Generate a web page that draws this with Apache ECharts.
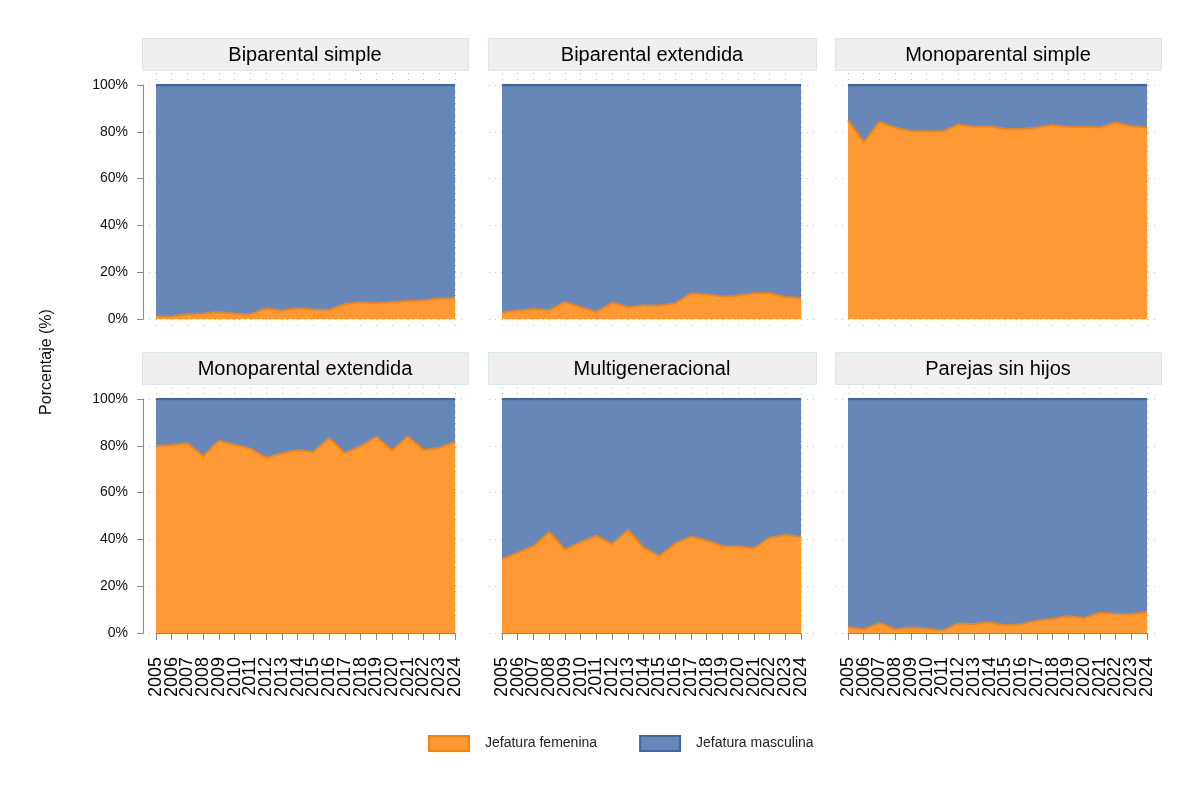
<!DOCTYPE html>
<html>
<head>
<meta charset="utf-8">
<script src="https://cdn.jsdelivr.net/npm/echarts@6/dist/echarts.min.js"></script>
<style>
html,body{margin:0;padding:0;background:#fff;}
#main{width:1200px;height:801px;}
</style>
</head>
<body>
<div id="main"></div>
<script>
// years on the x axis
var years = ['2005','2006','2007','2008','2009','2010','2011','2012','2013','2014',
             '2015','2016','2017','2018','2019','2020','2021','2022','2023','2024'];

var panelNames = ['Biparental simple','Biparental extendida','Monoparental simple',
                  'Monoparental extendida','Multigeneracional','Parejas sin hijos'];

// Jefatura femenina (%)
var femBiparentalSimple    = [1.1,1.1,2.1,2.4,3.0,2.4,2.0,4.6,3.6,4.7,4.1,4.0,6.4,7.1,6.7,7.3,7.7,8.0,8.8,9.1];
var femBiparentalExtendida = [2.9,3.6,4.3,3.8,7.3,5.1,3.0,7.0,5.1,5.8,5.8,6.7,11.0,10.5,9.5,10.0,11.0,11.1,9.4,9.0];
var femMonoparentalSimple  = [85.0,75.6,84.2,81.8,80.3,80.2,80.2,83.2,82.2,82.3,81.3,81.2,81.8,83.0,82.0,82.2,81.8,84.0,82.5,81.8];
var femMonoparentalExt     = [79.9,80.3,81.1,75.6,82.2,80.5,78.8,74.9,76.8,78.2,77.4,83.3,76.9,79.9,83.9,78.1,84.0,78.3,79.2,81.6];
var femMultigeneracional   = [31.6,34.3,37.2,43.2,35.8,38.8,41.6,38.0,44.0,36.6,32.9,38.3,41.2,39.6,37.2,37.0,36.3,40.7,41.9,41.0];
var femParejasSinHijos     = [2.6,1.6,4.3,1.7,2.3,1.9,1.1,4.1,3.8,4.6,3.3,3.7,5.3,6.1,7.3,6.4,8.7,8.2,8.1,9.0];

// Jefatura masculina (%)
var mascBiparentalSimple    = [98.9,98.9,97.9,97.6,97.0,97.6,98.0,95.4,96.4,95.3,95.9,96.0,93.6,92.9,93.3,92.7,92.3,92.0,91.2,90.9];
var mascBiparentalExtendida = [97.1,96.4,95.7,96.2,92.7,94.9,97.0,93.0,94.9,94.2,94.2,93.3,89.0,89.5,90.5,90.0,89.0,88.9,90.6,91.0];
var mascMonoparentalSimple  = [15.0,24.4,15.8,18.2,19.7,19.8,19.8,16.8,17.8,17.7,18.7,18.8,18.2,17.0,18.0,17.8,18.2,16.0,17.5,18.2];
var mascMonoparentalExt     = [20.1,19.7,18.9,24.4,17.8,19.5,21.2,25.1,23.2,21.8,22.6,16.7,23.1,20.1,16.1,21.9,16.0,21.7,20.8,18.4];
var mascMultigeneracional   = [68.4,65.7,62.8,56.8,64.2,61.2,58.4,62.0,56.0,63.4,67.1,61.7,58.8,60.4,62.8,63.0,63.7,59.3,58.1,59.0];
var mascParejasSinHijos     = [97.4,98.4,95.7,98.3,97.7,98.1,98.9,95.9,96.2,95.4,96.7,96.3,94.7,93.9,92.7,93.6,91.3,91.8,91.9,91.0];

var femData  = [femBiparentalSimple,femBiparentalExtendida,femMonoparentalSimple,
                femMonoparentalExt,femMultigeneracional,femParejasSinHijos];
var mascData = [mascBiparentalSimple,mascBiparentalExtendida,mascMonoparentalSimple,
                mascMonoparentalExt,mascMultigeneracional,mascParejasSinHijos];

var FONT = '"Liberation Sans", Arial, sans-serif';
var colLeft = [156, 502, 848];
var stripLeft = [142, 488, 835];
var stripW = [326, 328, 326];
var rowTop = [85, 399];
var plotW = 299, plotH = 234;
var dotted = {color:'#c4c4c4', width:1, type:[1,5]};

var grids = [], xAxes = [], yAxes = [], series = [], graphics = [];

for (var p = 0; p < 6; p++) {
	var c = p % 3, r = Math.floor(p / 3);
	var g = grids.length;
	// background grids for the dotted grid lines
	grids.push({left: stripLeft[c] + 1, top: rowTop[r], width: stripW[c] - 2, height: plotH});
	xAxes.push({gridIndex: g, type:'value', show:false, min:0, max:1});
	yAxes.push({gridIndex: g, type:'value', min:0, max:100, interval:20,
		axisLine:{show:false}, axisTick:{show:false}, axisLabel:{show:false},
		splitLine:{show:true, lineStyle:dotted}});
	grids.push({left: colLeft[c], top: rowTop[r] - 12, width: plotW, height: plotH + 20});
	xAxes.push({gridIndex: g + 1, type:'value', min:2005, max:2024, interval:1,
		axisLine:{show:false}, axisTick:{show:false}, axisLabel:{show:false},
		splitLine:{show:true, lineStyle:dotted}});
	yAxes.push({gridIndex: g + 1, type:'value', show:false, min:0, max:1});

	// data grid
	var dg = g + 2;
	grids.push({left: colLeft[c], top: rowTop[r], width: plotW, height: plotH});
	xAxes.push({
		gridIndex: dg, type:'category', data: years, boundaryGap:false,
		show: r === 1, offset: 15,
		axisLine:{show:true, lineStyle:{color:'#8a8a8a', width:1}},
		axisTick:{show:true, length:7, interval:0, lineStyle:{color:'#8a8a8a'}},
		axisLabel:{show:true, interval:0, rotate:90, margin:9, fontSize:18, color:'#000', fontFamily:FONT},
		splitLine:{show:false}
	});
	yAxes.push({
		gridIndex: dg, type:'value', min:0, max:100, interval:20,
		show: c === 0, offset: 13,
		axisLine:{show:true, lineStyle:{color:'#8a8a8a', width:1}},
		axisTick:{show:true, length:6, lineStyle:{color:'#8a8a8a'}},
		axisLabel:{show:true, margin:15, fontSize:14, color:'#111', fontFamily:FONT, formatter:'{value}%'},
		splitLine:{show:false}
	});

	series.push({
		name:'Jefatura femenina', type:'line', xAxisIndex: dg, yAxisIndex: dg,
		stack:'s' + p, data: femData[p], showSymbol:false, symbol:'none', z:4,
		lineStyle:{color:'#FF8000', width:2},
		itemStyle:{color:'#FF9933'},
		areaStyle:{color:'#FF9933', opacity:1},
		silent:true
	});
	series.push({
		name:'Jefatura masculina', type:'line', xAxisIndex: dg, yAxisIndex: dg,
		stack:'s' + p, data: mascData[p], showSymbol:false, symbol:'none', z:3,
		lineStyle:{color:'#3F67A8', width:2.5},
		itemStyle:{color:'#6787B8'},
		areaStyle:{color:'#6787B8', opacity:1},
		silent:true
	});

	// panel header strip
	var sy = rowTop[r] - 47;
	graphics.push({type:'rect', left: stripLeft[c], top: sy,
		shape:{width: stripW[c], height: 32},
		style:{fill:'#efefef', stroke:'#d9e6ec', lineWidth:1}});
	graphics.push({type:'text', x: stripLeft[c] + stripW[c] / 2, y: sy + 17,
		style:{text: panelNames[p], fill:'#000', font:'20px ' + FONT, textAlign:'center', textVerticalAlign:'middle'}});
}

graphics.push({type:'text', x: 47, y: 362, rotation: Math.PI / 2,
	style:{text:'Porcentaje (%)', fill:'#111', font:'16px ' + FONT, textAlign:'center', textVerticalAlign:'middle'}});

var chart = echarts.init(document.getElementById('main'));
chart.setOption({
	backgroundColor:'#fff',
	animation:false,
	grid: grids,
	xAxis: xAxes,
	yAxis: yAxes,
	series: series,
	graphic: graphics,
	legend:{
		left: 428, top: 735, padding: 0, itemWidth: 40, itemHeight: 15, itemGap: 42,
		selectedMode:false,
		textStyle:{fontSize:14, color:'#222', fontFamily:FONT, padding:[0,0,0,11]},
		data:[
			{name:'Jefatura femenina', icon:'rect', itemStyle:{color:'#FF9933', borderColor:'#FF8000', borderWidth:2}},
			{name:'Jefatura masculina', icon:'rect', itemStyle:{color:'#6787B8', borderColor:'#4169A8', borderWidth:2}}
		]
	}
});
</script>
</body>
</html>
